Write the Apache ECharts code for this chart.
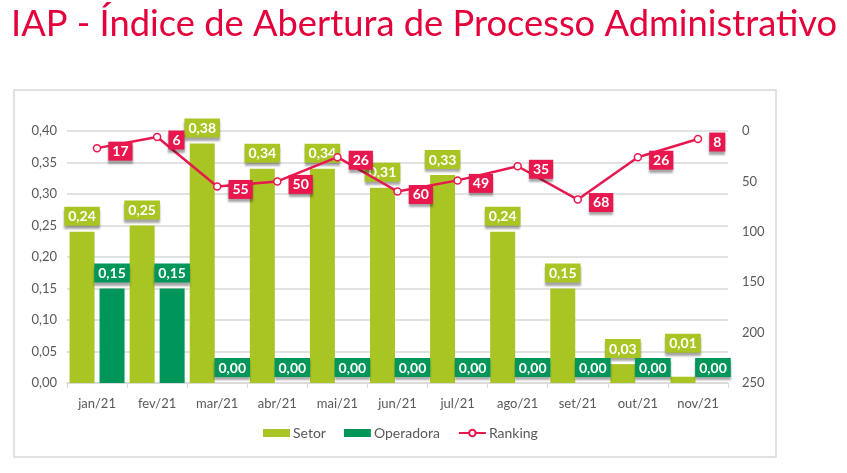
<!DOCTYPE html>
<html style="height: 100%">
  <head>
     <meta charset="utf-8">
  </head>
  <body style="height: 100%; margin: 0; background: #fff">
     <div id="container" style="width: 847px; height: 473px"></div>
     <script type="text/javascript" src="https://cdn.jsdelivr.net/npm/echarts@6/dist/echarts.min.js"></script>
     <script type="text/javascript">
var months = ['jan/21','fev/21','mar/21','abr/21','mai/21','jun/21','jul/21','ago/21','set/21','out/21','nov/21'];
var setor = [0.24, 0.25, 0.38, 0.34, 0.34, 0.31, 0.33, 0.24, 0.15, 0.03, 0.01];
var operadora = [0.15, 0.15, 0, 0, 0, 0, 0, 0, 0, 0, 0];
var ranking = [17, 6, 55, 50, 26, 60, 49, 35, 68, 26, 8];

var dom = document.getElementById("container");
var myChart = echarts.init(dom);
var option = null;

var FONT = 'Lato';
var GREEN1 = '#a9c523';
var GREEN2 = '#00965a';
var RED = '#e8184f';

function fmt(v) {
  return v.toFixed(2).replace('.', ',');
}

function boxLabel(bg) {
  return {
    show: true,
    color: '#fff',
    fontFamily: FONT,
    fontWeight: 'bold',
    fontSize: 14,
    backgroundColor: bg,
    padding: [3, 4, 2, 4],
    shadowColor: 'rgba(0,0,0,0.35)',
    shadowBlur: 2,
    shadowOffsetY: 3
  };
}

// last setor label is pushed up a bit, like in the original
var setorData = setor.map(function(v, i) {
  if (i == setor.length - 1) {
    return { value: v, label: { offset: [0, -18] } };
  }
  return v;
});

option = {
  textStyle: { fontFamily: FONT },
  title: {
    text: 'IAP - Índice de Abertura de Processo Administrativo',
    left: 6,
    top: 1,
    textStyle: {
      color: '#e4003b',
      fontFamily: FONT,
      fontWeight: 'normal',
      fontSize: 36.3
    }
  },
  graphic: [{
    type: 'rect',
    shape: { x: 14, y: 90, width: 762, height: 367 },
    style: { fill: 'none', stroke: '#d9d9d9', lineWidth: 1.5 },
    silent: true
  }],
  legend: {
    bottom: 28,
    left: 258,
    itemWidth: 27,
    itemHeight: 8,
    itemGap: 18,
    textStyle: { color: '#595959', fontSize: 14, fontFamily: FONT, padding: [0, 0, 0, -2] },
    data: [
      { name: 'Setor', icon: 'rect' },
      { name: 'Operadora', icon: 'rect' },
      { name: 'Ranking' }
    ]
  },
  grid: { left: 67, right: 119, top: 131, bottom: 90 },
  xAxis: {
    type: 'category',
    data: months,
    axisLine: { lineStyle: { color: '#d9d9d9', width: 1.5 } },
    axisTick: { show: true, length: 5, lineStyle: { color: '#d9d9d9' } },
    axisLabel: { color: '#595959', fontSize: 13, margin: 14, fontFamily: FONT }
  },
  yAxis: [{
    type: 'value',
    min: 0,
    max: 0.4,
    interval: 0.05,
    axisLine: { show: false },
    axisTick: { show: false },
    splitLine: { lineStyle: { color: '#d9d9d9', width: 1.5 } },
    axisLabel: {
      color: '#595959', fontSize: 13, margin: 10, fontFamily: FONT,
      formatter: function(v) { return fmt(v); }
    }
  }, {
    type: 'value',
    min: 0,
    max: 250,
    interval: 50,
    inverse: true,
    axisLine: { show: false },
    axisTick: { show: false },
    splitLine: { show: false },
    axisLabel: { color: '#595959', fontSize: 13, margin: 14, fontFamily: FONT }
  }],
  series: [
    {
      name: 'Setor',
      type: 'bar',
      barWidth: 25,
      barGap: '20%',
      itemStyle: { color: GREEN1 },
      label: Object.assign(boxLabel(GREEN1), {
        position: 'top',
        distance: 6,
        formatter: function(p) { return fmt(p.value); }
      }),
      data: setorData,
      z: 2
    },
    {
      name: 'Operadora',
      type: 'bar',
      barWidth: 25,
      itemStyle: { color: GREEN2 },
      label: Object.assign(boxLabel(GREEN2), {
        position: 'top',
        distance: 6,
        formatter: function(p) { return fmt(p.value); }
      }),
      data: operadora,
      z: 3
    },
    {
      name: 'Ranking',
      type: 'line',
      yAxisIndex: 1,
      symbol: 'circle',
      symbolSize: 7,
      lineStyle: { color: RED, width: 2.5 },
      itemStyle: { color: '#fff', borderColor: RED, borderWidth: 1.5 },
      label: Object.assign(boxLabel(RED), {
        position: 'right',
        distance: 7,
        offset: [0, 3]
      }),
      data: ranking,
      z: 4
    }
  ]
};

if (option && typeof option === "object") {
  myChart.setOption(option, true);
}
     </script>
  </body>
</html>
